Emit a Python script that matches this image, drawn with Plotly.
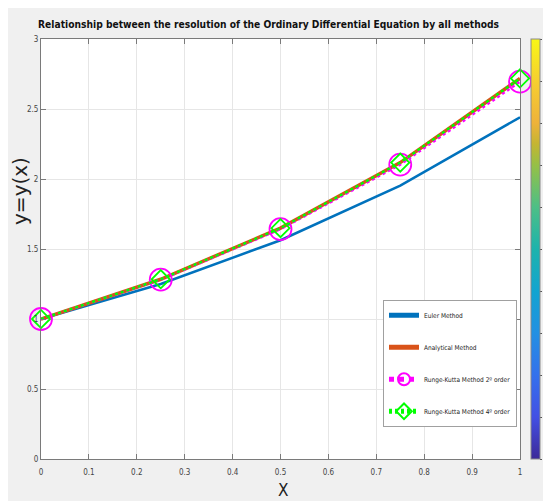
import plotly.graph_objects as go

# ---- data ----
x_vals = [0.0, 0.25, 0.5, 0.75, 1.0]
euler = [1.0, 1.25, 1.5625, 1.953, 2.441]
analytical = [1.0, 1.284, 1.649, 2.117, 2.718]
rk2 = [1.0, 1.281, 1.642, 2.103, 2.695]
rk4 = [1.0, 1.284, 1.649, 2.117, 2.718]
x_ticks = [0, 0.1, 0.2, 0.3, 0.4, 0.5, 0.6, 0.7, 0.8, 0.9, 1]
y_ticks = [0, 0.5, 1, 1.5, 2, 2.5, 3]
cbar_ticks = [0, 0.1, 0.2, 0.3, 0.4, 0.5, 0.6, 0.7, 0.8, 0.9, 1]
series_names = ["Euler Method", "Analytical Method",
                "Runge-Kutta Method 2º order", "Runge-Kutta Method 4º order"]

NARROW = "DejaVu Sans Condensed, Liberation Sans Narrow, Arial Narrow, Liberation Sans, sans-serif"

parula = [
    [0.0, "#3d2a98"], [0.1, "#4350e4"], [0.2, "#3471ec"], [0.3, "#2390e2"],
    [0.4, "#12a4d0"], [0.5, "#1db3ac"], [0.6, "#4dbf86"], [0.7, "#96c046"],
    [0.75, "#c4b532"], [0.8, "#eeb23a"], [0.9, "#f6cf30"], [1.0, "#f8f716"],
]

fig = go.Figure()

fig.add_trace(go.Scatter(
    x=x_vals, y=euler, name=series_names[0], mode="lines",
    line=dict(color="#0072BD", width=2.5), legendgroup="a",
))
fig.add_trace(go.Scatter(
    x=x_vals, y=analytical, name=series_names[1], mode="lines",
    line=dict(color="#D95319", width=3.5), legendgroup="b",
))
fig.add_trace(go.Scatter(
    x=x_vals, y=rk2, name=series_names[2], mode="lines+markers",
    line=dict(color="#FF00FF", width=2.5, dash="dot"),
    marker=dict(symbol="circle-open", size=22, color="#FF00FF",
                line=dict(width=1.8, color="#FF00FF")),
    legendgroup="c", cliponaxis=False,
))
fig.add_trace(go.Scatter(
    x=x_vals, y=rk4, name=series_names[3], mode="lines+markers",
    line=dict(color="#00FF00", width=2.5, dash="3px,3px"),
    marker=dict(symbol="diamond-open", size=14, color="#00FF00",
                line=dict(width=1.8, color="#00FF00")),
    legendgroup="d", cliponaxis=False,
))

# colorbar (MATLAB default colorbar)
fig.add_trace(go.Scatter(
    x=[None], y=[None], mode="markers", showlegend=False, hoverinfo="skip",
    marker=dict(color=[0], cmin=0, cmax=1, colorscale=parula, showscale=True,
                colorbar=dict(
                    x=1.023, xanchor="left", xpad=0, ypad=0,
                    y=0.5, yanchor="middle", len=1, lenmode="fraction",
                    thickness=9, outlinewidth=1, outlinecolor="#8a8a8a",
                    tickvals=cbar_ticks, ticktext=[f"{v:g}" for v in cbar_ticks],
                    ticks="outside", ticklen=2, tickcolor="#555",
                    tickfont=dict(family=NARROW, size=8, color="#444"),
                )),
))

axis_common = dict(
    showline=True, linecolor="#7a7a7a", linewidth=1, mirror="ticks",
    ticks="inside", ticklen=5, tickcolor="#7a7a7a",
    showgrid=True, gridcolor="#e6e6e6", gridwidth=1, zeroline=False,
    tickfont=dict(family=NARROW, size=8, color="#444"),
)

# the page places the figure at an 8 px offset (white border), margins account for it
fig.update_layout(
    width=551, height=501,
    margin=dict(l=33, r=39, t=31, b=50, autoexpand=False),
    paper_bgcolor="#f0f0f0", plot_bgcolor="white",
    title=dict(
        text="<b>Relationship between the resolution of the Ordinary Differential Equation by all methods</b>",
        font=dict(family=NARROW, size=10.2, color="#111"),
        x=0.475, xanchor="center", y=0.968, yanchor="middle",
        xref="paper", yref="container",
    ),
    xaxis=dict(range=[0, 1], tickvals=x_ticks, ticktext=[f"{v:g}" for v in x_ticks],
               ticklabelstandoff=5, **axis_common),
    yaxis=dict(range=[0, 3], tickvals=y_ticks, ticktext=[f"{v:g}" for v in y_ticks],
               **axis_common),
    showlegend=True,
    legend=dict(
        x=0.714, y=0.379, xanchor="left", yanchor="top",
        bgcolor="white", bordercolor="#a0a0a0", borderwidth=1,
        font=dict(family=NARROW, size=6.5, color="#222"),
        tracegroupgap=13, itemsizing="constant",
    ),
    annotations=[
        dict(text="y=y(x)", textangle=-90, xref="paper", yref="paper",
             x=-0.044, y=0.638, xanchor="center", yanchor="middle",
             showarrow=False, font=dict(family="DejaVu Sans", size=20, color="#222")),
        dict(text="X", xref="paper", yref="paper",
             x=0.505, y=-0.074, xanchor="center", yanchor="middle",
             showarrow=False, font=dict(family=NARROW, size=17, color="#222")),
    ],
)

fig.write_html("out.html")
